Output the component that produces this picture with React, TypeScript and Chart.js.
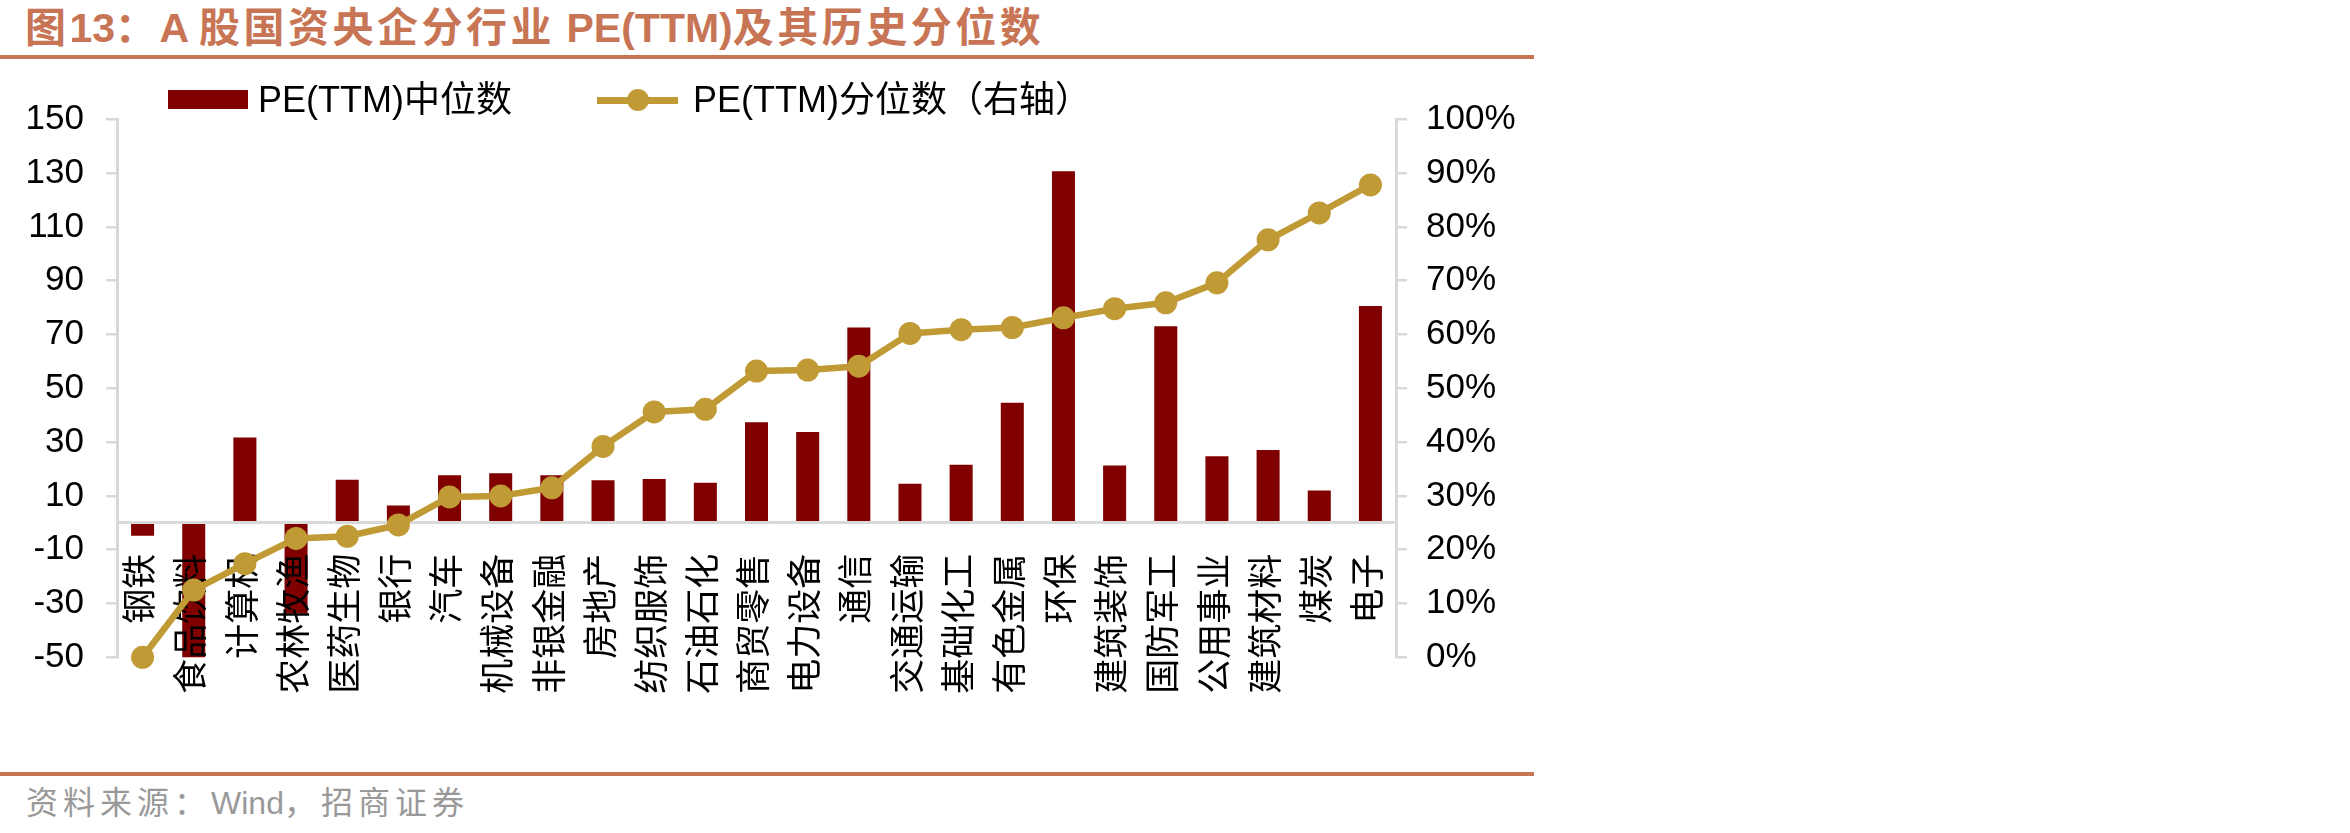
import React, { useEffect, useRef } from 'react';
import { Chart, registerables } from 'chart.js';

Chart.register(...registerables);

const categories = [
  '钢铁', '食品饮料', '计算机', '农林牧渔', '医药生物', '银行', '汽车', '机械设备', '非银金融',
  '房地产', '纺织服饰', '石油石化', '商贸零售', '电力设备', '通信', '交通运输', '基础化工',
  '有色金属', '环保', '建筑装饰', '国防军工', '公用事业', '建筑材料', '煤炭', '电子',
];
const peMedian = [
  -4.8, -51, 31.7, -33.7, 16.0, 6.4, 17.7, 18.4, 17.7, 15.8, 16.3, 14.9, 37.4, 33.8, 72.6,
  14.5, 21.6, 44.6, 130.7, 21.3, 73.1, 24.7, 27.1, 12.0, 80.6,
];
const pePercentile = [
  0, 12.5, 17.4, 22.1, 22.5, 24.6, 29.8, 30.0, 31.5, 39.2, 45.6, 46.1, 53.2, 53.4, 54.1,
  60.2, 60.9, 61.3, 63.1, 64.8, 65.9, 69.6, 77.6, 82.6, 87.8,
];
const leftTicks = [-50, -30, -10, 10, 30, 50, 70, 90, 110, 130, 150];
const rightTicks = [0, 10, 20, 30, 40, 50, 60, 70, 80, 90, 100];

const barLabel = 'PE(TTM)中位数';
const lineLabel = 'PE(TTM)分位数（右轴）';

const TITLE_COLOR = '#C87556';
const BAR_COLOR = '#800000';
const LINE_COLOR = '#C09A35';
const AXIS_COLOR = '#D9D9D9';
const FONT = '"Liberation Sans", "Noto Sans CJK SC", Arial, sans-serif';

const lineOnTop = {
  id: 'lineOnTop',
  beforeDatasetDraw(_chart: any, args: any) {
    if (args.meta.type === 'line') return false;
    return true;
  },
  afterDraw(chart: any) {
    chart.getSortedVisibleDatasetMetas().forEach((m: any) => {
      if (m.type === 'line') m.controller.draw();
    });
  },
};

export default function App() {
  const ref = useRef<HTMLCanvasElement>(null);

  useEffect(() => {
    const chart = new Chart(ref.current as HTMLCanvasElement, {
      type: 'bar',
      data: {
        labels: categories,
        datasets: [
          {
            type: 'line',
            label: lineLabel,
            data: pePercentile,
            yAxisID: 'y1',
            borderColor: LINE_COLOR,
            backgroundColor: LINE_COLOR,
            borderWidth: 6.5,
            pointRadius: 11.5,
            pointBorderWidth: 0,
            pointBackgroundColor: LINE_COLOR,
            tension: 0,
            borderJoinStyle: 'round',
            order: 0,
          } as any,
          {
            type: 'bar',
            label: barLabel,
            data: peMedian,
            yAxisID: 'y',
            backgroundColor: BAR_COLOR,
            barPercentage: 0.45,
            categoryPercentage: 1,
            order: 1,
          } as any,
        ],
      },
      options: {
        responsive: false,
        animation: false,
        devicePixelRatio: 1,
        layout: { padding: { left: 25, top: 119.3, right: 0, bottom: 62.7 } },
        plugins: {
          legend: { display: false },
          tooltip: { enabled: false },
          title: { display: false },
        },
        scales: {
          x: {
            position: { y: 0 } as any,
            offset: true,
            grid: { display: false },
            border: { display: true, color: AXIS_COLOR, width: 3, z: 1 } as any,
            ticks: {
              autoSkip: false,
              minRotation: 90,
              maxRotation: 90,
              padding: 23,
              color: '#000',
              z: 1,
              font: { size: 35, family: FONT },
            },
            afterFit: (s: any) => { s.height = 0; },
          },
          y: {
            position: 'left',
            min: -50,
            max: 150,
            afterBuildTicks: (s: any) => { s.ticks = leftTicks.map((v) => ({ value: v })); },
            grid: { display: true, drawOnChartArea: false, drawTicks: true, tickLength: 11, color: AXIS_COLOR, lineWidth: 2.5 },
            border: { display: true, color: AXIS_COLOR, width: 3 },
            ticks: { padding: 22, color: '#000', font: { size: 35, family: FONT } },
            afterFit: (s: any) => { s.width = 92; },
          },
          y1: {
            position: 'right',
            min: 0,
            max: 100,
            afterBuildTicks: (s: any) => { s.ticks = rightTicks.map((v) => ({ value: v })); },
            grid: { display: true, drawOnChartArea: false, drawTicks: true, tickLength: 11, color: AXIS_COLOR, lineWidth: 2.5 },
            border: { display: true, color: AXIS_COLOR, width: 3 },
            ticks: {
              padding: 19,
              color: '#000',
              font: { size: 35, family: FONT },
              callback: (v: any) => `${v}%`,
            },
            afterFit: (s: any) => { s.width = 144; },
          },
        },
      } as any,
      plugins: [lineOnTop as any],
    });
    return () => chart.destroy();
  }, []);

  const cjk = { letterSpacing: '3.5px' };
  const foot = { letterSpacing: '5px' };

  return (
    <div>
      <div
        style={{
          position: 'absolute', left: 25, top: 8, whiteSpace: 'nowrap',
          font: `bold 41px ${FONT}`, lineHeight: '41px', color: TITLE_COLOR,
        }}
      >
        <span style={cjk}>图</span>13<span style={cjk}>：</span>A <span style={cjk}>股国资央企分行业</span> PE(TTM)<span style={cjk}>及其历史分位数</span>
      </div>
      <div style={{ position: 'absolute', left: 0, top: 55, width: 1534, height: 4, background: TITLE_COLOR }} />

      <canvas
        ref={ref}
        width={1540}
        height={720}
        style={{ position: 'absolute', left: 0, top: 0, width: 1540, height: 720 }}
      />

      <div style={{ position: 'absolute', left: 168, top: 90, width: 80, height: 19, background: BAR_COLOR }} />
      <div
        style={{
          position: 'absolute', left: 258, top: 81.5, whiteSpace: 'nowrap',
          font: `36px ${FONT}`, lineHeight: '36px', color: '#000',
        }}
      >
        {barLabel}
      </div>
      <div style={{ position: 'absolute', left: 597, top: 96.5, width: 81, height: 7, background: LINE_COLOR }} />
      <div
        style={{
          position: 'absolute', left: 626.5, top: 89, width: 22, height: 22,
          borderRadius: '50%', background: LINE_COLOR,
        }}
      />
      <div
        style={{
          position: 'absolute', left: 693, top: 81.5, whiteSpace: 'nowrap',
          font: `36px ${FONT}`, lineHeight: '36px', color: '#000',
        }}
      >
        {lineLabel}
      </div>

      <div style={{ position: 'absolute', left: 0, top: 772, width: 1534, height: 4, background: TITLE_COLOR }} />
      <div
        style={{
          position: 'absolute', left: 26, top: 787, whiteSpace: 'nowrap',
          font: `32px ${FONT}`, lineHeight: '32px', color: '#999999',
        }}
      >
        <span style={foot}>资料来源：</span>Wind<span style={foot}>，招商证券</span>
      </div>
    </div>
  );
}
